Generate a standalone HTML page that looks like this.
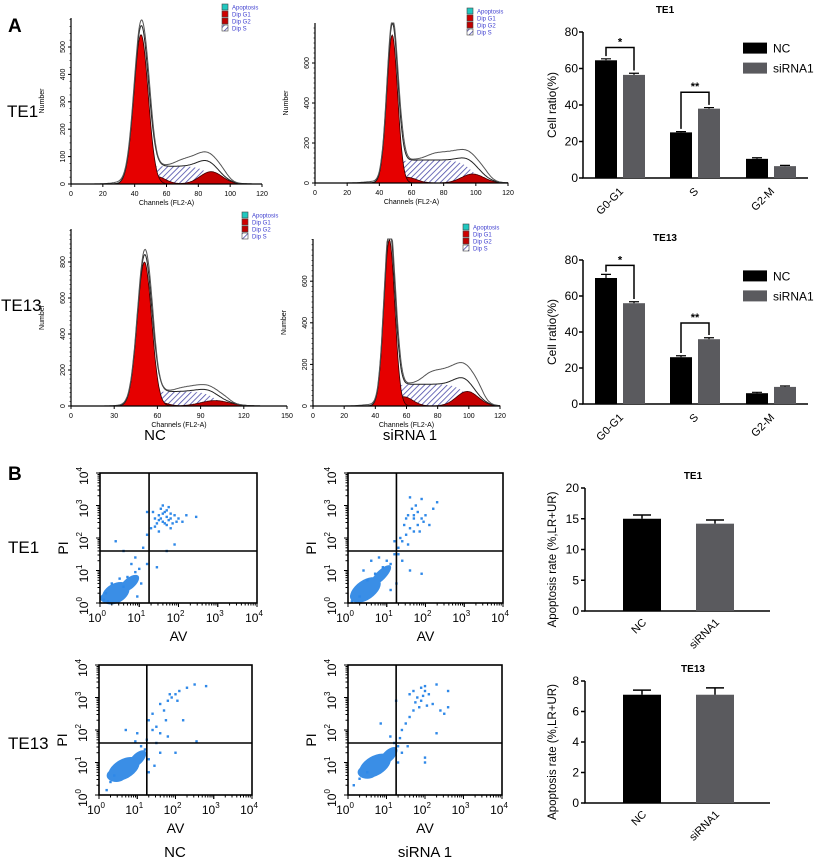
<!DOCTYPE html>
<html><head><meta charset="utf-8"><style>
html,body{margin:0;padding:0;background:#fff;}
svg{display:block;font-family:"Liberation Sans",Arial,sans-serif;}
</style></head><body>
<svg id="fig" width="816" height="864" viewBox="0 0 816 864" xmlns="http://www.w3.org/2000/svg">
<defs>
<pattern id="hatch" patternUnits="userSpaceOnUse" width="4" height="4" patternTransform="rotate(45)">
<rect width="4" height="4" fill="#ffffff"/>
<line x1="0" y1="0" x2="0" y2="4" stroke="#4a4aa8" stroke-width="1.6"/>
</pattern>
</defs>
<rect width="816" height="864" fill="#fff"/>
<text x="8" y="32" font-size="19" font-weight="bold">A</text>
<text x="8" y="480" font-size="19" font-weight="bold">B</text>
<text x="7" y="117" font-size="17">TE1</text>
<text x="1" y="311" font-size="17">TE13</text>
<text x="155" y="440" font-size="15" text-anchor="middle">NC</text>
<text x="410" y="440" font-size="15" text-anchor="middle">siRNA 1</text>
<text x="8" y="553" font-size="17">TE1</text>
<text x="8" y="749" font-size="17">TE13</text>
<text x="175" y="857" font-size="15" text-anchor="middle">NC</text>
<text x="425" y="857" font-size="15" text-anchor="middle">siRNA 1</text>
</svg>
<script>
const NS='http://www.w3.org/2000/svg';
const svg=document.getElementById('fig');
function mk(tag,attrs,parent){const e=document.createElementNS(NS,tag);for(const k in attrs)e.setAttribute(k,attrs[k]);(parent||svg).appendChild(e);return e;}
function txt(s,attrs,name){const e=mk('text',attrs);e.textContent=s;


return e;}

// ---------- Histogram data (cell cycle) ----------
const histG1 = [[44,4.5,545],[48,3.4,740],[51,5,800],[49,3.5,800]];   // mean, sd, height
const histG2 = [[88,7,45],[98,7,45],[100,10,30],[99,7,70]];
const histS  = [65,115,80,105];
const histRawBump = [30,40,25,70];
const histXMax = [120,120,150,120];
const histXStep = [20,20,30,20];
const histYTicks = [[0,100,200,300,400,500],[0,200,400,600],[0,200,400,600,800],[0,200,400,600]];
const histLayout=[{x0:71,x1:262,yb:184,yt:18,ppy:0.274,lx:222,ly:4},
{x0:315,x1:508,yb:183,yt:23,ppy:0.2,lx:467,ly:8},
{x0:71,x1:287,yb:406,yt:229,ppy:0.18,lx:242,ly:212},
{x0:313,x1:500,yb:406,yt:239,ppy:0.208,lx:463,ly:224}];
function gauss(x,m,s,h){return h*Math.exp(-0.5*((x-m)/s)**2);}
function sig(z){return 1/(1+Math.exp(-z));}
histLayout.forEach((L,i)=>{
  const g=mk('g',{});
  
  
  const xs=v=>L.x0+(L.x1-L.x0)*v/histXMax[i];
  const ys=v=>Math.max(L.yt,L.yb-v*L.ppy);
  const [m1,s1,h1]=histG1[i],[m2,s2,h2]=histG2[i],sl=histS[i];
  const sF=x=>sl*sig((x-m1)/2.5)*sig((m2-x)/4);
  const pts=[];for(let x=0;x<=histXMax[i];x+=0.5)pts.push(x);
  const area=(f)=>'M'+xs(0)+','+L.yb+' '+pts.map(x=>'L'+xs(x).toFixed(1)+','+ys(f(x)).toFixed(1)).join(' ')+' L'+xs(histXMax[i])+','+L.yb+'Z';
  const line=(f)=>'M'+pts.map(x=>xs(x).toFixed(1)+','+ys(f(x)).toFixed(1)).join(' L');
  const sA=mk('path',{d:area(sF),fill:'url(#hatch)',stroke:'none'},g);
  
  
  const g2=mk('path',{d:area(x=>gauss(x,m2,s2,h2)+0.35*gauss(x,m1+9,6,h2*1.3*(i==2?1.8:1.4))),fill:'#c40000',stroke:'#400',"stroke-width":0.8},g);
  
  
  const g1=mk('path',{d:area(x=>gauss(x,m1,s1,h1)),fill:'#e60000',stroke:'#300',"stroke-width":0.8},g);
  
  
  const tot=x=>gauss(x,m1,s1,h1)+gauss(x,m2,s2,h2)+sF(x);
  const raw=x=>tot(x)*1.02+gauss(x,m1+5,2.5,h1*0.06)+histRawBump[i]*sig((x-m1-22)/3)*sig((m2+10-x)/2)+8*sig((x-m1+18)/3)*sig((m1-x)/3);
  const l1=mk('path',{d:line(tot),fill:'none',stroke:'#222',"stroke-width":1},g);
  
  
  const l2=mk('path',{d:line(raw),fill:'none',stroke:'#555',"stroke-width":1},g);
  
  
  const ax=mk('path',{d:`M${L.x0},${L.yt} L${L.x0},${L.yb} L${L.x1},${L.yb}`,fill:'none',stroke:'#000',"stroke-width":1.2},g);
  
  
  for(let v=0;v<=histXMax[i];v+=histXStep[i]){
    mk('line',{x1:xs(v),x2:xs(v),y1:L.yb,y2:L.yb+3,stroke:'#000'},g);
    txt(String(v),{x:xs(v),y:L.yb+12,'font-size':7,'text-anchor':'middle'},'x-tick-label');
  }
  histYTicks[i].forEach(v=>{const y=L.yb-v*L.ppy;
    mk('line',{x1:L.x0-3,x2:L.x0,y1:y,y2:y,stroke:'#000'},g);
    txt(String(v),{x:L.x0-6,y:y,'font-size':7,'text-anchor':'middle',transform:`rotate(-90 ${L.x0-6} ${y})`},'y-tick-label');
  });
  for(let y=L.yb;y>L.yt;y-=L.ppy*25)mk('line',{x1:L.x0-1.5,x2:L.x0,y1:y,y2:y,stroke:'#000','stroke-width':0.6},g);
  txt('Channels (FL2-A)',{x:(L.x0+L.x1)/2,y:L.yb+21,'font-size':7,'text-anchor':'middle'},'x-axis-title');
  const ym=(L.yt+L.yb)/2, xl=L.x0-27;
  txt('Number',{x:xl,y:ym,'font-size':7,'text-anchor':'middle',transform:`rotate(-90 ${xl} ${ym})`},'y-axis-title');
  const lg=[['#20c8c0','Apoptosis'],['#d00000','Dip G1'],['#c00000','Dip G2'],['url(#hatch)','Dip S']];
  lg.forEach((e,k)=>{const y=L.ly+k*7;
    const r=mk('rect',{x:L.lx,y:y,width:6,height:6,fill:e[0],stroke:'#444','stroke-width':0.6});
    
    
    txt(e[1],{x:L.lx+10,y:y+5.5,'font-size':6,fill:'#4040d0'},'legend-label');
  });
});

// ---------- Cell ratio bar charts ----------
const cycleCats=['G0-G1','S','G2-M'];
const cycleTE1NC=[64.5,25,10.5], cycleTE1Si=[56.5,38,6.5];
const cycleTE1NCerr=[0.8,0.4,0.6], cycleTE1SiErr=[0.9,0.6,0.4];
const cycleTE13NC=[70,26,6], cycleTE13Si=[56,36,9.5];
const cycleTE13NCerr=[2,0.8,0.5], cycleTE13SiErr=[0.8,0.8,0.5];
const cycleYTicks=[0,20,40,60,80];
const cycleSig=[['*',0],['**',1]];
function cycleChart(title,nc,si,ncE,siE,y0,y80,tag){
  const ys=v=>y0+(y80-y0)*v/80;
  const ax0=583, grpX=[595,670,746], bw=22, gap=28;
  txt(title,{x:665,y:y80-19,'font-size':10,'font-weight':'bold','text-anchor':'middle'},'chart-title-'+tag);
  const ax=mk('path',{d:`M${ax0},${ys(80)} L${ax0},${y0} L808,${y0}`,fill:'none',stroke:'#000','stroke-width':1.5});
  
  
  cycleYTicks.forEach(v=>{mk('line',{x1:ax0-4,x2:ax0,y1:ys(v),y2:ys(v),stroke:'#000','stroke-width':1.5});
    txt(String(v),{x:ax0-5,y:ys(v)+4,'font-size':12,'text-anchor':'end'},'y-tick-label');});
  const ym=(y0+y80)/2;
  txt('Cell ratio(%)',{x:556,y:ym,'font-size':12,'text-anchor':'middle',transform:`rotate(-90 556 ${ym})`},'y-axis-title');
  cycleCats.forEach((c,k)=>{
    [[nc,ncE,'#000'],[si,siE,'#5a5a5e']].forEach((s,j)=>{
      const x=grpX[k]+j*gap, v=s[0][k], e=s[1][k];
      const r=mk('rect',{x:x,y:ys(v),width:bw,height:y0-ys(v),fill:s[2]});
      
      
      mk('path',{d:`M${x+bw/2},${ys(v)} V${ys(v+e)} M${x+bw/2-5},${ys(v+e)} H${x+bw/2+5}`,stroke:'#000','stroke-width':1.2});
    });
    const cx=grpX[k]+gap/2+bw/2+4, cy=y0+14;
    txt(c,{x:cx,y:cy,'font-size':11,'text-anchor':'end',transform:`rotate(-45 ${cx} ${cy})`},'x-tick-label');
  });
  cycleSig.forEach(([star,k])=>{
    const xa=grpX[k]+bw/2, xb=grpX[k]+gap+bw/2;
    const top=Math.max(nc[k],si[k])+(k==0?7:9);
    const br=mk('path',{d:`M${xa},${ys(nc[k]+ncE[k]+1.5)} V${ys(top)} H${xb} V${ys(si[k]+siE[k]+1.5)}`,fill:'none',stroke:'#000','stroke-width':1.5});
    
    
    txt(star,{x:(xa+xb)/2,y:ys(top)-2,'font-size':11,'font-weight':'bold','text-anchor':'middle'},'significance-star');
  });
  [['NC','#000'],['siRNA1','#5a5a5e']].forEach((l,j)=>{
    const r=mk('rect',{x:743,y:ys(72)+j*20-4,width:24,height:11,fill:l[1]});
    
    
    txt(l[0],{x:773,y:ys(72)+j*20+6,'font-size':12},'legend-label');
  });
}
cycleChart('TE1',cycleTE1NC,cycleTE1Si,cycleTE1NCerr,cycleTE1SiErr,178,32,'te1');
cycleChart('TE13',cycleTE13NC,cycleTE13Si,cycleTE13NCerr,cycleTE13SiErr,404,260,'te13');

// ---------- Apoptosis bar charts ----------
const apoCats=['NC','siRNA1'];
const apoTE1=[15,14.2], apoTE1Err=[0.6,0.6];
const apoTE13=[7.1,7.1], apoTE13Err=[0.3,0.45];
const apoTE1Ticks=[0,5,10,15,20], apoTE13Ticks=[0,2,4,6,8];
function apoChart(title,vals,errs,ticks,y0,yTop,tag){
  const vmax=ticks[ticks.length-1], ys=v=>y0+(yTop-y0)*v/vmax, ax0=585, bx=[623,696], bw=38;
  txt(title,{x:693,y:yTop-9,'font-size':10,'font-weight':'bold','text-anchor':'middle'},'chart-title-'+tag);
  const ax=mk('path',{d:`M${ax0},${yTop} L${ax0},${y0} L770,${y0}`,fill:'none',stroke:'#000','stroke-width':1.5});
  
  
  ticks.forEach(v=>{mk('line',{x1:ax0-4,x2:ax0,y1:ys(v),y2:ys(v),stroke:'#000','stroke-width':1.5});
    txt(String(v),{x:ax0-6,y:ys(v)+4,'font-size':12,'text-anchor':'end'},'y-tick-label');});
  const ym=(y0+yTop)/2+10;
  txt('Apoptosis rate (%,LR+UR)',{x:556,y:ym,'font-size':11.5,'text-anchor':'middle',transform:`rotate(-90 556 ${ym})`},'y-axis-title');
  apoCats.forEach((c,k)=>{
    const v=vals[k],e=errs[k],x=bx[k];
    const r=mk('rect',{x:x,y:ys(v),width:bw,height:y0-ys(v),fill:k?'#5a5a5e':'#000'});
    
    
    mk('path',{d:`M${x+bw/2},${ys(v)} V${ys(v+e)} M${x+bw/2-9},${ys(v+e)} H${x+bw/2+9}`,stroke:'#000','stroke-width':1.5});
    const cx=x+bw/2+5, cy=y0+12;
    txt(c,{x:cx,y:cy,'font-size':11,'text-anchor':'end',transform:`rotate(-45 ${cx} ${cy})`},'x-tick-label');
  });
}
apoChart('TE1',apoTE1,apoTE1Err,apoTE1Ticks,611,488,'te1');
apoChart('TE13',apoTE13,apoTE13Err,apoTE13Ticks,803,681,'te13');

// ---------- Annexin V / PI scatter plots (log10 units) ----------
const scatterBlob1=[[0.4,0.3,0.38,0.3,-30],[0.75,0.6,0.3,0.17,-40],[0.25,0.15,0.25,0.17,0]];
const scatterBlob2=[[0.45,0.4,0.45,0.3,-35],[0.85,0.85,0.35,0.15,-45],[0.3,0.2,0.25,0.17,0]];
const scatterBlob3=[[0.65,0.8,0.45,0.3,-30],[1.0,1.1,0.3,0.17,-45],[0.45,0.6,0.25,0.2,0]];
const scatterBlob4=[[0.7,0.9,0.45,0.3,-30],[1.05,1.2,0.3,0.17,-45],[0.5,0.7,0.25,0.2,0]];
const scatterPts1=[[0.1,0.1],[0.2,0.05],[0.15,0.3],[0.3,0.6],[0.5,0.75],[0.7,0.8],[0.9,0.95],[1.0,1.05],[0.8,1.2],[0.6,0.5],[1.05,0.6],[0.95,0.2],[1.2,1.2],[0.9,1.4],[1.1,1.7],[0.4,1.9],[0.6,1.6],[1.3,2.3],[1.2,2.1],[1.4,2.6],[1.5,2.7],[1.6,2.5],[1.7,2.4],[1.8,2.6],[1.9,2.7],[1.55,2.9],[1.65,2.8],[1.75,2.55],[1.85,2.45],[2.0,2.6],[2.2,2.7],[2.45,2.65],[1.45,2.45],[1.6,3.0],[1.7,2.65],[1.35,2.8],[1.5,2.2],[1.9,1.8],[1.7,1.6],[1.45,1.1],[1.2,2.8],[1.8,2.3],[1.6,2.75],[2.1,2.5],[1.75,2.95],[1.55,2.6],[1.65,2.45],[1.8,2.75],[1.5,2.55],[1.95,2.5],[1.7,2.85],[1.4,2.35]];
const scatterPts2=[[0.1,0.05],[0.3,0.2],[0.5,0.7],[0.7,0.9],[0.9,1.1],[1.0,1.3],[1.1,1.2],[1.2,1.5],[0.8,1.4],[1.3,1.7],[1.4,1.9],[1.5,2.1],[1.2,1.9],[1.6,2.3],[1.7,2.6],[1.8,2.8],[1.9,3.2],[1.75,3.0],[1.65,2.9],[1.5,2.6],[2.0,2.7],[2.1,2.4],[2.2,2.9],[1.4,1.3],[1.6,1.0],[1.9,0.9],[1.3,1.5],[1.85,2.2],[1.55,2.7],[1.7,2.2],[1.45,2.4],[2.3,3.1],[1.95,2.5],[1.6,3.25],[1.25,0.6],[1.1,0.4],[1.35,2.0],[1.8,2.4],[0.4,1.0],[0.6,1.3],[1.7,2.7],[1.9,2.6],[1.55,1.8]];
const scatterPts3=[[0.2,0.15],[0.3,0.4],[0.4,0.6],[1.2,1.4],[1.0,1.9],[0.7,2.0],[1.3,2.3],[1.4,2.0],[1.5,2.1],[1.6,1.9],[1.7,2.6],[1.8,2.9],[1.9,3.0],[2.0,3.1],[2.1,3.2],[2.3,3.3],[2.5,3.4],[2.8,3.35],[1.75,2.3],[1.85,3.1],[1.6,2.8],[2.2,2.3],[1.5,1.6],[1.3,1.1],[1.45,0.9],[1.6,1.3],[1.3,0.7],[2.0,1.3],[2.55,1.65],[1.25,1.7],[1.1,1.5],[2.05,2.9],[1.8,1.8],[1.4,2.5],[0.95,1.65]];
const scatterPts4=[[0.15,0.3],[0.3,0.5],[0.5,0.7],[1.2,1.6],[1.1,1.8],[1.3,1.5],[1.25,2.9],[0.85,2.2],[1.4,2.0],[1.5,2.2],[1.6,2.4],[1.7,2.6],[1.8,3.0],[1.9,3.3],[2.0,3.35],[2.1,3.1],[2.0,3.2],[1.95,3.05],[2.3,3.4],[2.6,3.2],[2.4,2.6],[2.5,2.5],[2.3,1.9],[1.6,3.1],[1.75,2.85],[1.85,2.7],[2.2,2.8],[1.4,1.3],[1.3,1.0],[2.0,1.0],[2.0,1.15],[1.55,1.5],[1.35,1.75],[2.6,2.7],[1.9,2.9],[1.7,3.2],[2.05,2.75]];
const scatterVLine=[1.25,1.25,1.25,1.25], scatterHLine=[1.6,1.6,1.6,1.6];
const scatterLayout=[{x0:100,x1:257,y0:603,y1:473},{x0:348,x1:503,y0:603,y1:473},{x0:99,x1:252,y0:795,y1:665},{x0:348,x1:502,y0:795,y1:665}];
const scatterBlobs=[scatterBlob1,scatterBlob2,scatterBlob3,scatterBlob4];
const scatterPts=[scatterPts1,scatterPts2,scatterPts3,scatterPts4];
scatterLayout.forEach((L,i)=>{
  const g=mk('g',{});
  
  
  const xs=v=>L.x0+(L.x1-L.x0)*v/4, ys=v=>L.y0+(L.y1-L.y0)*v/4;
  const sx=(L.x1-L.x0)/4, sy=(L.y0-L.y1)/4;
  scatterBlobs[i].forEach(b=>{
    const e=mk('ellipse',{cx:xs(b[0]),cy:ys(b[1]),rx:b[2]*sx,ry:b[3]*sy,fill:'#3a8ee6',transform:`rotate(${b[4]} ${xs(b[0])} ${ys(b[1])})`},g);
    
    
  });
  scatterPts[i].forEach(p=>{
    const r=mk('rect',{x:xs(p[0])-1.2,y:ys(p[1])-1.2,width:2.4,height:2.4,fill:'#2e88e8'},g);
    
    
  });
  const bx=mk('rect',{x:L.x0,y:L.y1,width:L.x1-L.x0,height:L.y0-L.y1,fill:'none',stroke:'#000','stroke-width':1.6},g);
  
  
  const q=mk('path',{d:`M${xs(scatterVLine[i])},${L.y1} V${L.y0} M${L.x0},${ys(scatterHLine[i])} H${L.x1}`,stroke:'#000','stroke-width':1.6},g);
  
  
  for(let d=0;d<4;d++)for(let m=1;m<=10;m++){const f=d+Math.log10(m);const big=m==1||m==10;
    mk('line',{x1:xs(f),x2:xs(f),y1:L.y0,y2:L.y0+(big?4:2.5),stroke:'#000','stroke-width':1},g);
    mk('line',{x1:L.x0-(big?4:2.5),x2:L.x0,y1:ys(f),y2:ys(f),stroke:'#000','stroke-width':1},g);}
  for(let d=0;d<=4;d++){
    const t=txt('10',{x:xs(d)-3,y:L.y0+19,'font-size':12,'text-anchor':'middle'},'x-tick-label');
    const s=mk('tspan',{dy:-6,'font-size':8},t);s.textContent=String(d);
    const tx=L.x0-12, ty=ys(d)+3;
    const t2=txt('10',{x:tx,y:ty,'font-size':12,'text-anchor':'middle',transform:`rotate(-90 ${tx} ${ty})`},'y-tick-label');
    const s2=mk('tspan',{dy:-6,'font-size':8},t2);s2.textContent=String(d);
  }
  txt('AV',{x:(L.x0+L.x1)/2,y:L.y0+38,'font-size':14,'text-anchor':'middle'},'x-axis-title');
  const ym=(L.y0+L.y1)/2+10, xl=L.x0-32;
  txt('PI',{x:xl,y:ym,'font-size':14,'text-anchor':'middle',transform:`rotate(-90 ${xl} ${ym})`},'y-axis-title');
});
</script>
</body></html>
